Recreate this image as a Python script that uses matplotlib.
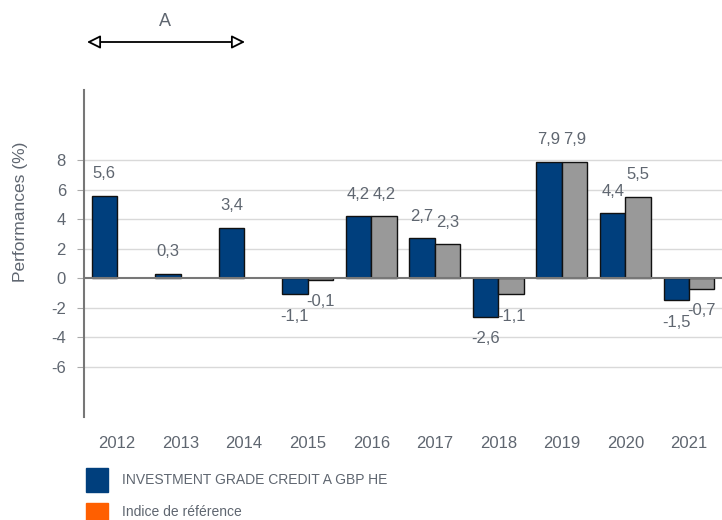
import matplotlib
matplotlib.use('Agg')
from matplotlib import pyplot as plt
from matplotlib.patches import Rectangle
import numpy as np

years= ['2012','2013','2014','2015','2016','2017','2018','2019','2020','2021']
fund= [5.6, 0.3, 3.4, -1.1, 4.2, 2.7, -2.6, 7.9, 4.4, -1.5]
bench= [None, None, None, -0.1, 4.2, 2.3, -1.1, 7.9, 5.5, -0.7]
yticks= [-6, -4, -2, 0, 2, 4, 6, 8]
fund_name= 'INVESTMENT GRADE CREDIT A GBP HE'
bench_name= 'Indice de référence'

blue= '#003f7d'
grey= '#999999'
orange= '#ff5f00'
txt= '#5f6670'

plt.rcParams['font.family']= ['Liberation Sans Narrow', 'Liberation Sans', 'DejaVu Sans']

fig= plt.figure(figsize=(7.22,5.2), dpi=100)
W, H= 722., 520.
ax= fig.add_axes([84/W, 1-417/H, (722-84)/W, (417-90)/H])

x= np.arange(len(years))
w= 0.4
ax.bar(x-w/2, fund, w, color=blue, edgecolor='#111111', linewidth=1, zorder=3)
bx= [xi for xi, b in zip(x, bench) if b is not None]
bv= [b for b in bench if b is not None]
ax.bar(np.array(bx)+w/2, bv, w, color=grey, edgecolor='#111111', linewidth=1, zorder=3)

def fmt(v):
    return ('%.1f' % v).replace('.', ',')

for xi, v in zip(x, fund):
    off= 1.5 if v >= 0 else -1.5
    ax.text(xi-w/2, v+off, fmt(v), ha='center', va='center', fontsize=12, color=txt)
for xi, v in zip(bx, bv):
    off= 1.5 if v >= 0 else -1.5
    ax.text(xi+w/2, v+off, fmt(v), ha='center', va='center', fontsize=12, color=txt)

ax.set_xlim(-0.52, 9.52)
ax.set_ylim(-9.4, 12.75)
ax.set_yticks(yticks)
ax.set_yticklabels([str(t) for t in yticks], fontsize=12, color=txt)
ax.set_xticks(x)
ax.set_xticklabels(years, fontsize=12, color=txt)
ax.tick_params(axis='x', length=0, pad=14)
ax.tick_params(axis='y', length=5, color='#aaaaaa', pad=8)
for t in yticks:
    if t != 0:
        ax.axhline(t, color='#d9d9d9', linewidth=1, zorder=1)
ax.axhline(0, color='#777777', linewidth=1.5, zorder=4)
for s in ['top', 'right', 'bottom']:
    ax.spines[s].set_visible(False)
ax.spines['left'].set_color('#777777')
ax.spines['left'].set_linewidth(1.5)
ax.set_ylabel('Performances (%)', fontsize=12.5, color=txt)
ax.yaxis.set_label_coords(-0.088, 0.627)

# period arrow
ax.annotate('', xy=(245/W, 1-42/H), xytext=(87/W, 1-42/H), xycoords='figure fraction',
            arrowprops=dict(arrowstyle='<|-|>', facecolor='white', edgecolor='black',
                            linewidth=1.3, mutation_scale=20, shrinkA=0, shrinkB=0))
fig.text(165/W, 1-22/H, 'A', ha='center', va='center', fontsize=13, color=txt)

# legend
fig.patches.append(Rectangle((86/W, 1-492/H), 22/W, 24/H, color=blue, transform=fig.transFigure))
fig.patches.append(Rectangle((86/W, 1-520/H), 22/W, 17/H, color=orange, transform=fig.transFigure))
fig.text(122/W, 1-480/H, fund_name, ha='left', va='center', fontsize=10, color=txt)
fig.text(122/W, 1-512/H, bench_name, ha='left', va='center', fontsize=10, color=txt)

fig.savefig('out.png', dpi=100)
